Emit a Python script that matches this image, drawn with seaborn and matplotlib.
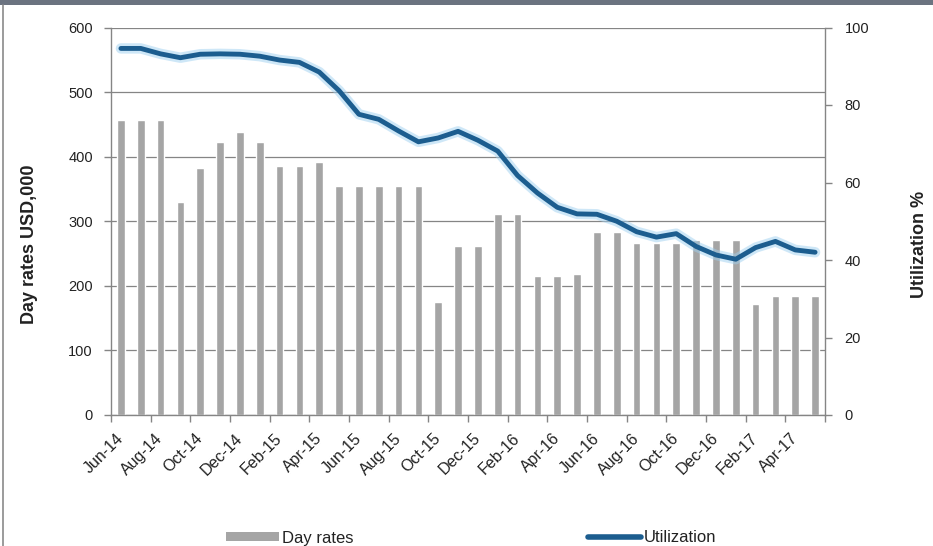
import numpy as np
import pandas as pd
import matplotlib
matplotlib.use("Agg")
import matplotlib.pyplot as plt
import seaborn as sns
from matplotlib.patches import Patch, Rectangle
from matplotlib.lines import Line2D

# ---- data ----
months = ["Jun-14", "Jul-14", "Aug-14", "Sep-14", "Oct-14", "Nov-14", "Dec-14",
          "Jan-15", "Feb-15", "Mar-15", "Apr-15", "May-15", "Jun-15", "Jul-15",
          "Aug-15", "Sep-15", "Oct-15", "Nov-15", "Dec-15", "Jan-16", "Feb-16",
          "Mar-16", "Apr-16", "May-16", "Jun-16", "Jul-16", "Aug-16", "Sep-16",
          "Oct-16", "Nov-16", "Dec-16", "Jan-17", "Feb-17", "Mar-17", "Apr-17",
          "May-17"]
day_rates = [457, 457, 457, 330, 383, 422, 438, 423, 386, 386, 391, 354, 354, 354,
             354, 354, 175, 262, 262, 312, 312, 215, 215, 218, 283, 283, 266, 266,
             266, 271, 271, 271, 172, 184, 184, 184]
utilization = [94.6, 94.6, 93.2, 92.2, 93.1, 93.2, 93.1, 92.6, 91.6, 91.0, 88.5,
               83.7, 77.6, 76.3, 73.3, 70.5, 71.5, 73.2, 70.9, 68.1, 61.8, 57.3,
               53.6, 51.9, 51.8, 50.0, 47.3, 45.9, 46.8, 43.5, 41.3, 40.2, 43.2,
               44.8, 42.6, 42.0]
left_ticks = [0, 100, 200, 300, 400, 500, 600]
right_ticks = [0, 20, 40, 60, 80, 100]

df = pd.DataFrame({"month": months, "day_rate": day_rates, "util": utilization,
                   "pos": range(len(months))})

BAR = "#a5a5a5"
LINE = "#1c5d8f"
GRID = "#858585"
TXT = "#222222"

sns.set_theme(style="white")
plt.rcParams["font.family"] = ["Liberation Sans", "DejaVu Sans"]

fig = plt.figure(figsize=(9.33, 5.46), dpi=100)
W, H = 933, 546
ax = fig.add_axes([111 / W, 1 - 415 / H, (825 - 111) / W, (415 - 27.5) / H])

sns.barplot(data=df, x="month", y="day_rate", color=BAR, width=0.38,
            saturation=1, ax=ax, zorder=2)
ax.set_xlim(-0.5, len(months) - 0.5)
ax.set_ylim(0, 600)
ax.set_yticks(left_ticks)
ax.yaxis.grid(True, color=GRID, lw=0.9, zorder=0)
ax.set_axisbelow(True)
for s in ["top", "right"]:
    ax.spines[s].set_visible(False)
for s in ["left", "bottom"]:
    ax.spines[s].set_color(GRID)
    ax.spines[s].set_linewidth(1)

# x ticks: labels every 2 months at centers, tick marks at boundaries
ax.set_xticks(df["pos"][::2])
ax.set_xticklabels(df["month"][::2], rotation=45, ha="right", va="center",
                   rotation_mode="anchor", fontsize=11.5, color=TXT)
ax.set_xticks(np.arange(-0.5, len(months), 2), minor=True)
ax.tick_params(axis="x", which="major", length=0, pad=15)
ax.tick_params(axis="x", which="minor", length=5, width=1, color=GRID,
               direction="out", bottom=True)
ax.tick_params(axis="y", length=5, width=1, color=GRID, direction="out",
               left=True, pad=8, labelsize=10.5, labelcolor=TXT)
ax.set_xlabel("")
ax.set_ylabel("Day rates USD,000", fontsize=13, fontweight="bold",
              color=TXT, labelpad=22)
ax.yaxis.label.set_y(0.44)

ax2 = ax.twinx()
sns.lineplot(data=df, x="pos", y="util", color="#9fd0f0", lw=7.5, alpha=0.5,
             ax=ax2, sort=False, zorder=3)
sns.lineplot(data=df, x="pos", y="util", color=LINE, lw=3.5, ax=ax2,
             sort=False, zorder=4)
ax2.set_ylim(0, 100)
ax2.set_yticks(right_ticks)
ax2.set_xlim(-0.5, len(months) - 0.5)
for s in ["top", "left", "bottom"]:
    ax2.spines[s].set_visible(False)
ax2.spines["right"].set_color(GRID)
ax2.spines["right"].set_linewidth(1)
ax2.grid(False)
ax2.tick_params(axis="y", length=5, width=1, color=GRID, direction="out",
                right=True, pad=9, labelsize=10.5, labelcolor=TXT)
ax2.set_ylabel("Utilization %", fontsize=13, fontweight="bold", color=TXT,
               labelpad=30)
ax2.yaxis.label.set_y(0.44)
ax2.set_xlabel("")

# legend
h1 = Patch(facecolor=BAR, edgecolor="none")
h2 = Line2D([0], [0], color=LINE, lw=4)
leg1 = fig.legend([h1], ["Day rates"], loc="center left",
                  bbox_to_anchor=(226 / W, 1 - 538 / H), frameon=False,
                  fontsize=12, handlelength=3.2, handleheight=0.5,
                  handletextpad=0.15, borderpad=0, borderaxespad=0)
leg2 = fig.legend([h2], ["Utilization"], loc="center left",
                  bbox_to_anchor=(588 / W, 1 - 538 / H), frameon=False,
                  fontsize=12, handlelength=3.2, handletextpad=0.15,
                  borderpad=0, borderaxespad=0)
for lg in (leg1, leg2):
    for t in lg.get_texts():
        t.set_color(TXT)

# frame decorations of the original screenshot
fig.add_artist(Rectangle((0, 1 - 5 / H), 1, 5 / H, transform=fig.transFigure,
                         facecolor="#6b7380", edgecolor="none"))
fig.add_artist(Line2D([2.5 / W, 2.5 / W], [0, 1 - 5 / H], transform=fig.transFigure,
                      color="#8a8a8a", lw=1.2))

fig.savefig("out.png", dpi=100)
